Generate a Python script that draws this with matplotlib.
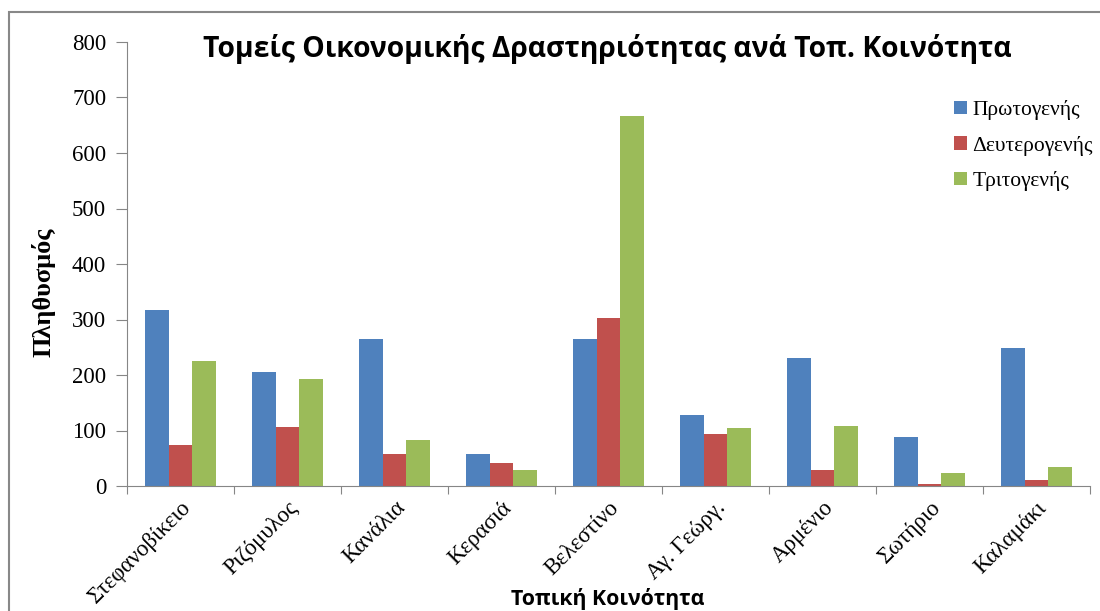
import numpy as np
import matplotlib
matplotlib.use("Agg")
import matplotlib.pyplot as plt
from matplotlib.patches import Rectangle

# data
villages = ["Στεφανοβίκειο", "Ριζόμυλος", "Κανάλια", "Κερασιά", "Βελεστίνο",
            "Αγ. Γεώργ.", "Αρμένιο", "Σωτήριο", "Καλαμάκι"]
primary = [317, 205, 265, 58, 265, 128, 230, 89, 248]
secondary = [73, 107, 58, 41, 302, 93, 29, 3, 11]
tertiary = [225, 192, 82, 29, 666, 105, 109, 23, 34]
series_names = ["Πρωτογενής", "Δευτερογενής", "Τριτογενής"]
colors = ["#4F81BD", "#C0504D", "#9BBB59"]

serif = ["Liberation Serif", "DejaVu Serif"]
sans = ["Open Sans", "Noto Sans", "DejaVu Sans"]

fig = plt.figure(figsize=(11, 6.11), dpi=100)
ax = fig.add_axes([127 / 1100, 1 - 486 / 611, (1090 - 127) / 1100, (486 - 42) / 611])

x = np.arange(len(villages))
w = 0.224
for i, vals in enumerate([primary, secondary, tertiary]):
    ax.bar(x + (i - 1) * w, vals, width=w, color=colors[i], label=series_names[i])

ax.set_xlim(-0.5, len(villages) - 0.5)
ax.set_ylim(0, 800)
ax.set_yticks(range(0, 801, 100))
ax.set_yticklabels([str(v) for v in range(0, 801, 100)], family=serif, fontsize=16.5)

# category ticks sit between groups, labels at the centres
ax.set_xticks(np.arange(-0.5, len(villages), 1))
ax.set_xticklabels([])
ax.set_xticks(x, minor=True)
ax.set_xticklabels(villages, minor=True, rotation=45, ha="right", va="top",
                   rotation_mode="anchor", family=serif, fontsize=16.5)
ax.tick_params(axis="x", which="minor", length=0, pad=8)
ax.tick_params(axis="x", which="major", length=6, color="#868686")
ax.tick_params(axis="y", length=8, color="#868686", pad=7)

for s in ["top", "right"]:
    ax.spines[s].set_visible(False)
for s in ["left", "bottom"]:
    ax.spines[s].set_color("#868686")

fig.text(607 / 1100, 1 - 49 / 611, "Τομείς Οικονομικής Δραστηριότητας ανά Τοπ. Κοινότητα",
         family=sans, fontweight="bold", fontsize=20.3, ha="center", va="center")
fig.text(43 / 1100, 1 - 292 / 611, "Πληθυσμός", family=serif, fontweight="bold",
         fontsize=19, rotation=90, ha="center", va="center")
fig.text(608 / 1100, 1 - 599 / 611, "Τοπική Κοινότητα", family=sans, fontweight="bold",
         fontsize=15.3, ha="center", va="center")

leg = ax.legend(loc="upper left", bbox_to_anchor=(954 / 1100, 1 - 100 / 611),
                bbox_transform=fig.transFigure, frameon=False, borderpad=0,
                borderaxespad=0, prop={"family": serif, "size": 15.5},
                handlelength=0.6, handleheight=0.6, handletextpad=0.25,
                labelspacing=0.72)

fig.patches.append(Rectangle((9 / 1100, -0.1), 1.2, 1.1 - 12 / 611,
                             transform=fig.transFigure, fill=False,
                             edgecolor="#888888", linewidth=1.5))

fig.savefig("out.png", dpi=100)
